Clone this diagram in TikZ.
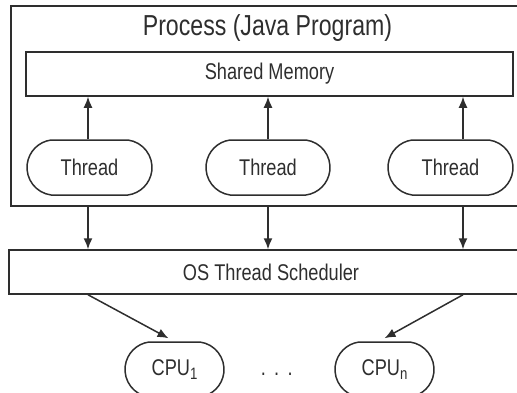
\documentclass[tikz,border=0pt]{standalone}
\usepackage{fontspec}
\setmainfont[FakeStretch=0.8]{Liberation Sans}
\usetikzlibrary{arrows.meta,shapes.misc}
\newcommand{\mainsz}{\fontsize{22.75}{26}\selectfont}
\newcommand{\titlesz}{\fontsize{28.9}{32}\selectfont}
\newcommand{\subsz}{\fontsize{16.5}{16.5}\selectfont}
\definecolor{ink}{gray}{0.18}
\tikzset{
  box/.style={draw=ink, line width=1.5pt, rectangle, inner sep=0pt},
  pill/.style={draw=ink, line width=1.5pt, rounded rectangle, rounded rectangle arc length=165, inner sep=0pt, minimum height=55pt, font=\mainsz, text=ink},
  arr/.style={draw=ink, line width=1.5pt, -{Latex[length=11pt,width=9pt]}},
  lbl/.style={font=\mainsz, text=ink, inner sep=0pt}
}
\begin{document}
\begin{tikzpicture}[x=1pt,y=-1pt]
\useasboundingbox (0,0) rectangle (517,392);
\clip (0,0) rectangle (517,392);
% process
\node[box, minimum width=513pt, minimum height=200pt] (proc) at (267.5,106) {};
\node[font=\titlesz, text=ink, inner sep=0pt] (title) at (267.5,28) {Process (Java Program)};
\node[box, minimum width=487pt, minimum height=44pt, font=\mainsz, text=ink] (mem) at (269.5,74) {Shared Memory};
\node[pill, minimum width=125pt] (t1) at (89.5,167.5) {Thread};
\node[pill, minimum width=124pt] (t2) at (268,167.5) {Thread};
\node[pill, minimum width=125pt] (t3) at (450.5,167.5) {Thread};
% scheduler
\node[box, minimum width=524pt, minimum height=44pt, font=\mainsz, text=ink] (os) at (271,272) {OS Thread Scheduler};
% cpus
\node[pill, minimum width=99pt] (c1) at (174.5,369.5) {CPU\raisebox{-4pt}{\subsz 1}};
\node[pill, minimum width=99pt] (cn) at (384.5,369.5) {CPU\raisebox{-4pt}{\subsz n}};
\node[lbl, anchor=base] (dots) at (276.7,375) {.\hspace{8.3pt}.\hspace{8.3pt}.};
% arrows thread -> memory
\coordinate (a1) at ([xshift=-1.5pt]t1.north);
\coordinate (a3) at ([xshift=12.5pt]t3.north);
\draw[arr] (a1) -- (a1 |- mem.south);
\draw[arr] (t2.north) -- (t2.north |- mem.south);
\draw[arr] (a3) -- (a3 |- mem.south);
% arrows process -> scheduler
\draw[arr] (a1 |- proc.south) -- (a1 |- os.north);
\draw[arr] (t2.north |- proc.south) -- (t2.north |- os.north);
\draw[arr] (a3 |- proc.south) -- (a3 |- os.north);
% scheduler -> cpus
\draw[arr] (a1 |- os.south) -- ([xshift=-6pt,yshift=3pt]c1.north);
\draw[arr] (a3 |- os.south) -- ([yshift=3pt]cn.north);
\end{tikzpicture}
\end{document}
